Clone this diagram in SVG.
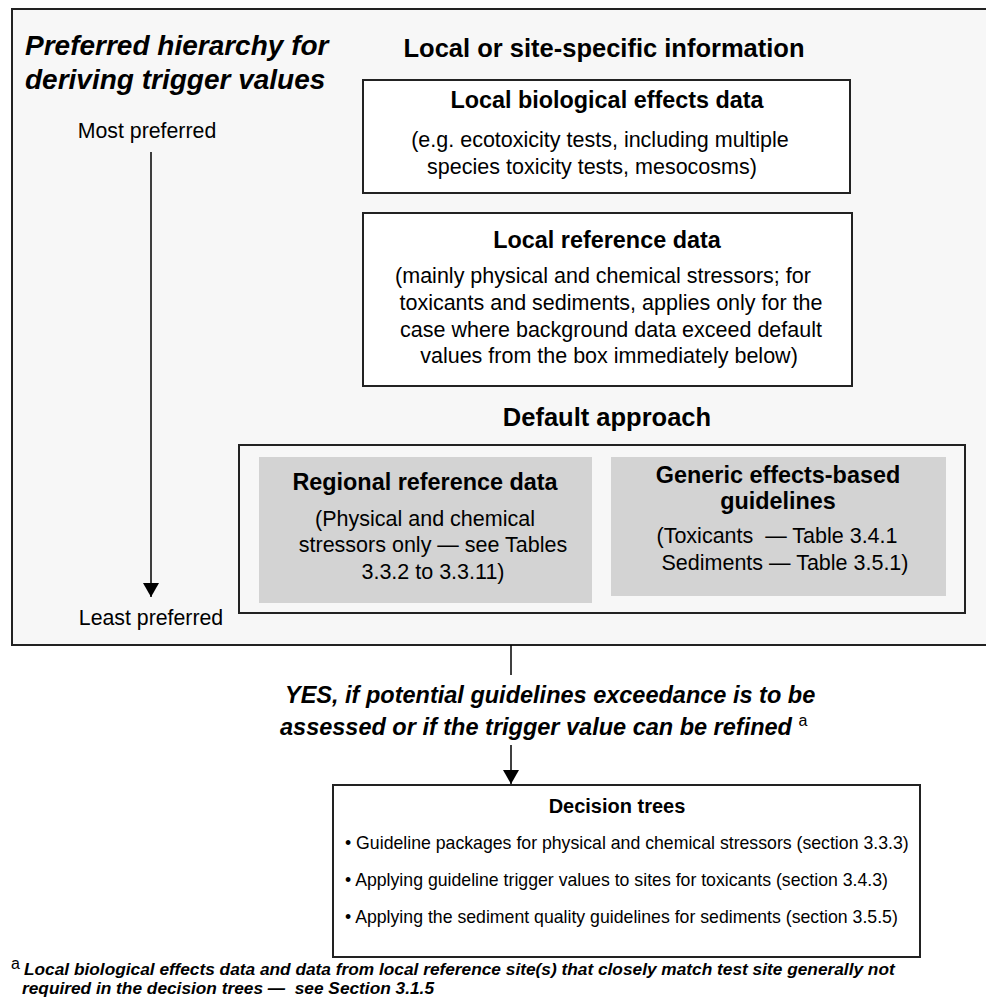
<svg xmlns="http://www.w3.org/2000/svg" width="986" height="1001" viewBox="0 0 986 1001">
  <style>
    text { font-family: "Liberation Sans", Arial, sans-serif; fill: #000; }
    .title { font-size: 28px; font-weight: bold; font-style: italic; }
    .section { font-size: 25.5px; font-weight: bold; text-anchor: middle; }
    .head { font-size: 23.4px; font-weight: bold; text-anchor: middle; }
    .body { font-size: 21.5px; text-anchor: middle; }
    .axis { font-size: 21.3px; text-anchor: middle; }
    .yes { font-size: 23.5px; font-weight: bold; font-style: italic; }
    .tree-head { font-size: 20px; font-weight: bold; text-anchor: middle; }
    .item { font-size: 17.7px; }
    .note { font-size: 17.3px; font-weight: bold; font-style: italic; }
    .frame { fill: #f7f7f7; stroke: #222; stroke-width: 2; }
    .box { fill: #fff; stroke: #222; stroke-width: 2; }
    .group-box { fill: #f7f7f7; stroke: #222; stroke-width: 2; }
    .shade { fill: #d3d3d3; stroke: none; }
    .link { stroke: #000; stroke-width: 1.5; fill: none; }
  </style>
  <defs>
    <marker id="arrow" viewBox="0 0 14 16" refX="14" refY="8" markerWidth="14" markerHeight="16" markerUnits="userSpaceOnUse" orient="auto">
      <path d="M0,0 L14,8 L0,16 z" fill="#000"/>
    </marker>
  </defs>

  <rect width="986" height="1001" fill="#fff"/>

  <!-- outer panel: hierarchy of information sources -->
  <g id="hierarchy-panel">
    <rect class="frame" x="12" y="9" width="990" height="636"/>
    <text class="title" x="25" y="55">Preferred hierarchy for</text>
    <text class="title" x="25" y="89">deriving trigger values</text>
  </g>

  <g id="preference-axis">
    <text class="axis" x="147" y="138">Most preferred</text>
    <line class="link" x1="151" y1="152" x2="151" y2="597" marker-end="url(#arrow)"/>
    <text class="axis" x="151" y="625">Least preferred</text>
  </g>

  <g id="local-header">
    <text class="section" x="604" y="57">Local or site-specific information</text>
  </g>

  <g id="local-biological">
    <rect class="box" x="363" y="80" width="487" height="113"/>
    <text class="head" x="607" y="108">Local biological effects data</text>
    <text class="body" x="600" y="147">(e.g. ecotoxicity tests, including multiple</text>
    <text class="body" x="592" y="174">species toxicity tests, mesocosms)</text>
  </g>

  <g id="local-reference">
    <rect class="box" x="363" y="213" width="489" height="173"/>
    <text class="head" x="607" y="248">Local reference data</text>
    <text class="body" x="603" y="283">(mainly physical and chemical stressors; for</text>
    <text class="body" x="611" y="310">toxicants and sediments, applies only for the</text>
    <text class="body" x="611" y="337">case where background data exceed default</text>
    <text class="body" x="609" y="363">values from the box immediately below)</text>
  </g>

  <g id="default-header">
    <text class="section" x="607" y="426">Default approach</text>
  </g>

  <g id="default-approach">
    <rect class="group-box" x="239" y="445" width="726" height="168"/>
  </g>

  <g id="regional-reference">
    <rect class="shade" x="259" y="457" width="333" height="146"/>
    <text class="head" x="425" y="490">Regional reference data</text>
    <text class="body" x="425" y="526">(Physical and chemical</text>
    <text class="body" x="433" y="552">stressors only — see Tables</text>
    <text class="body" x="433" y="579">3.3.2 to 3.3.11)</text>
  </g>

  <g id="generic-guidelines">
    <rect class="shade" x="611" y="457" width="335" height="139"/>
    <text class="head" x="778" y="483">Generic effects-based</text>
    <text class="head" x="778" y="509">guidelines</text>
    <text class="body" x="777" y="543" xml:space="preserve">(Toxicants  — Table 3.4.1</text>
    <text class="body" x="785" y="570">Sediments — Table 3.5.1)</text>
  </g>

  <!-- connectors from the hierarchy panel down to the decision trees -->
  <g id="connectors">
    <line class="link" x1="511" y1="645" x2="511" y2="675"/>
    <line class="link" x1="511" y1="745" x2="511" y2="784" marker-end="url(#arrow)"/>
  </g>

  <g id="condition-label">
    <text class="yes" x="285" y="703">YES, if potential guidelines exceedance is to be</text>
    <text class="yes" x="280" y="735">assessed or if the trigger value can be refined <tspan font-size="16" font-weight="normal" font-style="normal" dy="-9">a</tspan></text>
  </g>

  <g id="decision-trees">
    <rect class="box" x="333" y="785" width="587" height="172"/>
    <text class="tree-head" x="617" y="813">Decision trees</text>
    <text class="item" x="345" y="849">• Guideline packages for physical and chemical stressors (section 3.3.3)</text>
    <text class="item" x="345" y="886">• Applying guideline trigger values to sites for toxicants (section 3.4.3)</text>
    <text class="item" x="345" y="923">• Applying the sediment quality guidelines for sediments (section 3.5.5)</text>
  </g>

  <g id="footnote">
    <text x="11" y="969" font-size="16">a</text>
    <text class="note" x="24" y="975">Local biological effects data and data from local reference site(s) that closely match test site generally not</text>
    <text class="note" x="22" y="994" xml:space="preserve">required in the decision trees —  see Section 3.1.5</text>
  </g>
</svg>
